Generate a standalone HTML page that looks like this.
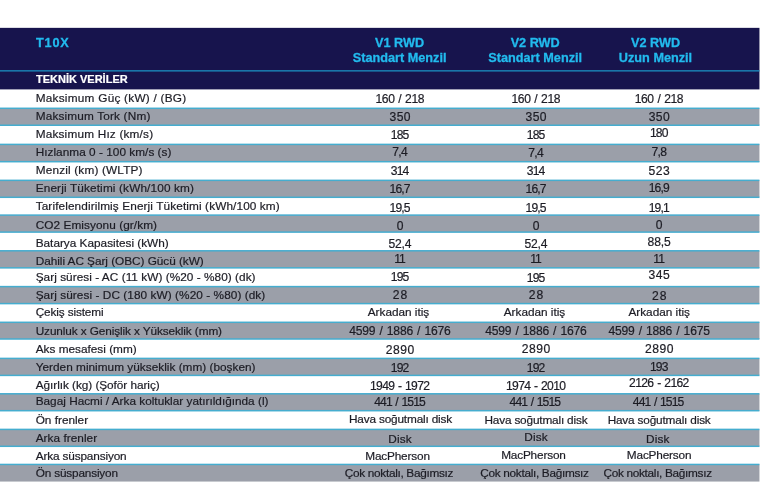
<!DOCTYPE html>
<html lang="tr"><head><meta charset="utf-8"><title>T10X Teknik Veriler</title>
<style>
html,body{margin:0;padding:0;background:#fff;}
body{width:770px;height:504px;position:relative;overflow:hidden;font-family:"Liberation Sans",sans-serif;}
.abs{position:absolute;}
.t{position:absolute;white-space:nowrap;color:#1c1c24;-webkit-text-stroke:0.2px #1c1c24;font-size:11.8px;line-height:14px;}
.c{transform:translateX(-50%);text-align:center;}
.h{position:absolute;white-space:nowrap;color:#22bbee;-webkit-text-stroke:0.3px #22bbee;font-weight:bold;font-size:12.7px;line-height:15.8px;text-align:center;transform:translateX(-50%);}
</style></head><body>

<svg class="abs" style="left:0;top:0" width="770" height="504" viewBox="0 0 770 504">
<rect x="0" y="27.85" width="759.45" height="61.55" fill="#17144d"/>
<rect x="0" y="70.15" width="759.45" height="1.4" fill="#1b87b9"/>
<rect x="0" y="108.30" width="759.45" height="16.95" fill="#9b9fa9"/>
<rect x="0" y="107.55" width="759.45" height="1.5" fill="#45adcf"/>
<rect x="0" y="124.50" width="759.45" height="1.5" fill="#45adcf"/>
<rect x="0" y="144.40" width="759.45" height="17.30" fill="#9b9fa9"/>
<rect x="0" y="143.65" width="759.45" height="1.5" fill="#45adcf"/>
<rect x="0" y="160.95" width="759.45" height="1.5" fill="#45adcf"/>
<rect x="0" y="180.35" width="759.45" height="16.95" fill="#9b9fa9"/>
<rect x="0" y="179.60" width="759.45" height="1.5" fill="#45adcf"/>
<rect x="0" y="196.55" width="759.45" height="1.5" fill="#45adcf"/>
<rect x="0" y="215.10" width="759.45" height="17.00" fill="#9b9fa9"/>
<rect x="0" y="214.35" width="759.45" height="1.5" fill="#45adcf"/>
<rect x="0" y="231.35" width="759.45" height="1.5" fill="#45adcf"/>
<rect x="0" y="250.80" width="759.45" height="17.05" fill="#9b9fa9"/>
<rect x="0" y="250.05" width="759.45" height="1.5" fill="#45adcf"/>
<rect x="0" y="267.10" width="759.45" height="1.5" fill="#45adcf"/>
<rect x="0" y="286.60" width="759.45" height="17.00" fill="#9b9fa9"/>
<rect x="0" y="285.85" width="759.45" height="1.5" fill="#45adcf"/>
<rect x="0" y="302.85" width="759.45" height="1.5" fill="#45adcf"/>
<rect x="0" y="322.30" width="759.45" height="16.70" fill="#9b9fa9"/>
<rect x="0" y="321.55" width="759.45" height="1.5" fill="#45adcf"/>
<rect x="0" y="338.25" width="759.45" height="1.5" fill="#45adcf"/>
<rect x="0" y="358.40" width="759.45" height="17.00" fill="#9b9fa9"/>
<rect x="0" y="357.65" width="759.45" height="1.5" fill="#45adcf"/>
<rect x="0" y="374.65" width="759.45" height="1.5" fill="#45adcf"/>
<rect x="0" y="393.80" width="759.45" height="16.90" fill="#9b9fa9"/>
<rect x="0" y="393.05" width="759.45" height="1.5" fill="#45adcf"/>
<rect x="0" y="409.95" width="759.45" height="1.5" fill="#45adcf"/>
<rect x="0" y="429.40" width="759.45" height="16.90" fill="#9b9fa9"/>
<rect x="0" y="428.65" width="759.45" height="1.5" fill="#45adcf"/>
<rect x="0" y="445.55" width="759.45" height="1.5" fill="#45adcf"/>
<rect x="0" y="464.45" width="759.45" height="17.10" fill="#9b9fa9"/>
<rect x="0" y="463.70" width="759.45" height="1.5" fill="#45adcf"/>
</svg>
<div class="h" style="left:36px;top:35.5px;transform:none;text-align:left;letter-spacing:0.8px">T10X</div>
<div class="h" style="left:399.6px;top:36.0px">V1 RWD</div>
<div class="h" style="left:399.6px;top:51.4px">Standart Menzil</div>
<div class="h" style="left:535.2px;top:36.0px">V2 RWD</div>
<div class="h" style="left:535.2px;top:51.4px">Standart Menzil</div>
<div class="h" style="left:655.5px;top:36.0px">V2 RWD</div>
<div class="h" style="left:655.5px;top:51.4px">Uzun Menzil</div>
<div class="h" style="left:36px;top:71.5px;transform:none;text-align:left;color:#fff;-webkit-text-stroke:0.2px #fff;font-size:11px">TEKNİK VERİLER</div>
<div class="t" style="left:35.7px;top:90.86px;letter-spacing:0.248px">Maksimum Güç (kW) / (BG)</div>
<div class="t c" style="left:399.77px;top:92.06px;letter-spacing:-0.455px;word-spacing:1.0px;font-size:12.1px">160 / 218</div>
<div class="t c" style="left:535.77px;top:91.96px;letter-spacing:-0.455px;word-spacing:1.0px;font-size:12.1px">160 / 218</div>
<div class="t c" style="left:658.97px;top:91.96px;letter-spacing:-0.455px;word-spacing:1.0px;font-size:12.1px">160 / 218</div>
<div class="t" style="left:35.7px;top:109.06px;letter-spacing:0.163px">Maksimum Tork (Nm)</div>
<div class="t c" style="left:400.21px;top:109.86px;letter-spacing:0.411px;word-spacing:0px;font-size:12.1px">350</div>
<div class="t c" style="left:536.21px;top:110.16px;letter-spacing:0.411px;word-spacing:0px;font-size:12.1px">350</div>
<div class="t c" style="left:659.41px;top:110.16px;letter-spacing:0.411px;word-spacing:0px;font-size:12.1px">350</div>
<div class="t" style="left:35.7px;top:127.26px;letter-spacing:0.188px">Maksimum Hız (km/s)</div>
<div class="t c" style="left:399.58px;top:128.26px;letter-spacing:-0.839px;word-spacing:0px;font-size:12.1px">185</div>
<div class="t c" style="left:535.58px;top:128.26px;letter-spacing:-0.839px;word-spacing:0px;font-size:12.1px">185</div>
<div class="t c" style="left:658.81px;top:126.26px;letter-spacing:-0.789px;word-spacing:0px;font-size:12.1px">180</div>
<div class="t" style="left:35.7px;top:145.16px;letter-spacing:0.029px">Hızlanma 0 - 100 km/s (s)</div>
<div class="t c" style="left:399.67px;top:145.26px;letter-spacing:-0.660px;word-spacing:0px;font-size:12.1px">7,4</div>
<div class="t c" style="left:535.67px;top:145.96px;letter-spacing:-0.660px;word-spacing:0px;font-size:12.1px">7,4</div>
<div class="t c" style="left:658.87px;top:144.66px;letter-spacing:-0.660px;word-spacing:0px;font-size:12.1px">7,8</div>
<div class="t" style="left:35.7px;top:162.86px;letter-spacing:0.168px">Menzil (km) (WLTP)</div>
<div class="t c" style="left:399.58px;top:163.86px;letter-spacing:-0.839px;word-spacing:0px;font-size:12.1px">314</div>
<div class="t c" style="left:535.58px;top:163.86px;letter-spacing:-0.839px;word-spacing:0px;font-size:12.1px">314</div>
<div class="t c" style="left:659.46px;top:163.86px;letter-spacing:0.511px;word-spacing:0px;font-size:12.1px">523</div>
<div class="t" style="left:35.7px;top:180.96px;letter-spacing:0.142px">Enerji Tüketimi (kWh/100 km)</div>
<div class="t c" style="left:399.55px;top:182.26px;letter-spacing:-0.900px;word-spacing:0px;font-size:12.1px">16,7</div>
<div class="t c" style="left:535.55px;top:181.96px;letter-spacing:-0.900px;word-spacing:0px;font-size:12.1px">16,7</div>
<div class="t c" style="left:658.75px;top:181.26px;letter-spacing:-0.900px;word-spacing:0px;font-size:12.1px">16,9</div>
<div class="t" style="left:35.7px;top:198.76px;letter-spacing:0.111px">Tarifelendirilmiş Enerji Tüketimi (kWh/100 km)</div>
<div class="t c" style="left:399.55px;top:200.66px;letter-spacing:-0.900px;word-spacing:0px;font-size:12.1px">19,5</div>
<div class="t c" style="left:535.55px;top:200.66px;letter-spacing:-0.900px;word-spacing:0px;font-size:12.1px">19,5</div>
<div class="t c" style="left:658.75px;top:200.66px;letter-spacing:-0.900px;word-spacing:0px;font-size:12.1px">19,1</div>
<div class="t" style="left:35.7px;top:217.76px;letter-spacing:0.072px">CO2 Emisyonu (gr/km)</div>
<div class="t c" style="left:400.00px;top:218.56px;letter-spacing:0.000px;word-spacing:0px;font-size:12.1px">0</div>
<div class="t c" style="left:536.00px;top:218.76px;letter-spacing:0.000px;word-spacing:0px;font-size:12.1px">0</div>
<div class="t c" style="left:659.20px;top:217.86px;letter-spacing:0.000px;word-spacing:0px;font-size:12.1px">0</div>
<div class="t" style="left:35.7px;top:235.56px;letter-spacing:-0.003px">Batarya Kapasitesi (kWh)</div>
<div class="t c" style="left:399.91px;top:237.06px;letter-spacing:-0.184px;word-spacing:0px;font-size:12.1px">52,4</div>
<div class="t c" style="left:535.91px;top:236.56px;letter-spacing:-0.184px;word-spacing:0px;font-size:12.1px">52,4</div>
<div class="t c" style="left:659.16px;top:234.96px;letter-spacing:-0.084px;word-spacing:0px;font-size:12.1px">88,5</div>
<div class="t" style="left:35.7px;top:254.26px;letter-spacing:-0.037px">Dahili AC Şarj (OBC) Gücü (kW)</div>
<div class="t c" style="left:399.55px;top:252.16px;letter-spacing:-0.900px;word-spacing:0px;font-size:12.1px">11</div>
<div class="t c" style="left:535.55px;top:252.36px;letter-spacing:-0.900px;word-spacing:0px;font-size:12.1px">11</div>
<div class="t c" style="left:658.75px;top:252.36px;letter-spacing:-0.900px;word-spacing:0px;font-size:12.1px">11</div>
<div class="t" style="left:35.7px;top:269.76px;letter-spacing:0.044px">Şarj süresi - AC (11 kW) (%20 - %80) (dk)</div>
<div class="t c" style="left:399.61px;top:269.66px;letter-spacing:-0.789px;word-spacing:0px;font-size:12.1px">195</div>
<div class="t c" style="left:535.61px;top:270.86px;letter-spacing:-0.789px;word-spacing:0px;font-size:12.1px">195</div>
<div class="t c" style="left:659.46px;top:268.36px;letter-spacing:0.511px;word-spacing:0px;font-size:12.1px">345</div>
<div class="t" style="left:35.7px;top:287.66px;letter-spacing:0.067px">Şarj süresi - DC (180 kW) (%20 - %80) (dk)</div>
<div class="t c" style="left:400.45px;top:287.56px;letter-spacing:0.900px;word-spacing:0px;font-size:12.1px">28</div>
<div class="t c" style="left:536.45px;top:288.16px;letter-spacing:0.900px;word-spacing:0px;font-size:12.1px">28</div>
<div class="t c" style="left:659.65px;top:288.76px;letter-spacing:0.900px;word-spacing:0px;font-size:12.1px">28</div>
<div class="t" style="left:35.7px;top:304.96px;letter-spacing:-0.131px">Çekiş sistemi</div>
<div class="t c" style="left:398.49px;top:305.16px;letter-spacing:-0.011px">Arkadan itiş</div>
<div class="t c" style="left:534.49px;top:305.26px;letter-spacing:-0.011px">Arkadan itiş</div>
<div class="t c" style="left:659.19px;top:305.26px;letter-spacing:-0.011px">Arkadan itiş</div>
<div class="t" style="left:35.7px;top:323.56px;letter-spacing:-0.104px">Uzunluk x Genişlik x Yükseklik (mm)</div>
<div class="t c" style="left:399.90px;top:324.36px;letter-spacing:-0.204px;word-spacing:1.0px;font-size:12.1px">4599 / 1886 / 1676</div>
<div class="t c" style="left:535.90px;top:324.36px;letter-spacing:-0.204px;word-spacing:1.0px;font-size:12.1px">4599 / 1886 / 1676</div>
<div class="t c" style="left:659.10px;top:324.36px;letter-spacing:-0.204px;word-spacing:1.0px;font-size:12.1px">4599 / 1886 / 1675</div>
<div class="t" style="left:35.7px;top:341.76px;letter-spacing:0.005px">Aks mesafesi (mm)</div>
<div class="t c" style="left:400.28px;top:342.96px;letter-spacing:0.564px;word-spacing:0px;font-size:12.1px">2890</div>
<div class="t c" style="left:536.28px;top:342.46px;letter-spacing:0.564px;word-spacing:0px;font-size:12.1px">2890</div>
<div class="t c" style="left:659.48px;top:341.86px;letter-spacing:0.564px;word-spacing:0px;font-size:12.1px">2890</div>
<div class="t" style="left:35.7px;top:359.66px;letter-spacing:0.018px">Yerden minimum yükseklik (mm) (boşken)</div>
<div class="t c" style="left:399.61px;top:360.96px;letter-spacing:-0.789px;word-spacing:0px;font-size:12.1px">192</div>
<div class="t c" style="left:535.61px;top:360.76px;letter-spacing:-0.789px;word-spacing:0px;font-size:12.1px">192</div>
<div class="t c" style="left:658.81px;top:360.16px;letter-spacing:-0.789px;word-spacing:0px;font-size:12.1px">193</div>
<div class="t" style="left:35.7px;top:378.06px;letter-spacing:-0.047px">Ağırlık (kg) (Şoför hariç)</div>
<div class="t c" style="left:399.67px;top:379.16px;letter-spacing:-0.666px;word-spacing:1.0px;font-size:12.1px">1949 - 1972</div>
<div class="t c" style="left:535.67px;top:379.26px;letter-spacing:-0.666px;word-spacing:1.0px;font-size:12.1px">1974 - 2010</div>
<div class="t c" style="left:658.89px;top:376.36px;letter-spacing:-0.626px;word-spacing:1.0px;font-size:12.1px">2126 - 2162</div>
<div class="t" style="left:35.7px;top:394.46px;letter-spacing:0.000px">Bagaj Hacmi / Arka koltuklar yatırıldığında (l)</div>
<div class="t c" style="left:399.57px;top:395.26px;letter-spacing:-0.853px;word-spacing:1.0px;font-size:12.1px">441 / 1515</div>
<div class="t c" style="left:534.87px;top:395.06px;letter-spacing:-0.853px;word-spacing:1.0px;font-size:12.1px">441 / 1515</div>
<div class="t c" style="left:658.17px;top:395.06px;letter-spacing:-0.853px;word-spacing:1.0px;font-size:12.1px">441 / 1515</div>
<div class="t" style="left:35.7px;top:412.86px;letter-spacing:-0.006px">Ön frenler</div>
<div class="t c" style="left:400.51px;top:411.96px;letter-spacing:-0.172px">Hava soğutmalı disk</div>
<div class="t c" style="left:535.91px;top:412.76px;letter-spacing:-0.172px">Hava soğutmalı disk</div>
<div class="t c" style="left:659.11px;top:412.76px;letter-spacing:-0.172px">Hava soğutmalı disk</div>
<div class="t" style="left:35.7px;top:431.06px;letter-spacing:0.040px">Arka frenler</div>
<div class="t c" style="left:400.06px;top:431.96px;letter-spacing:0.121px">Disk</div>
<div class="t c" style="left:536.06px;top:430.26px;letter-spacing:0.121px">Disk</div>
<div class="t c" style="left:657.76px;top:431.96px;letter-spacing:0.121px">Disk</div>
<div class="t" style="left:35.7px;top:449.06px;letter-spacing:-0.146px">Arka süspansiyon</div>
<div class="t c" style="left:397.52px;top:448.91px;letter-spacing:-0.168px">MacPherson</div>
<div class="t c" style="left:533.42px;top:447.56px;letter-spacing:-0.168px">MacPherson</div>
<div class="t c" style="left:659.12px;top:447.56px;letter-spacing:-0.168px">MacPherson</div>
<div class="t" style="left:35.7px;top:465.56px;letter-spacing:-0.175px">Ön süspansiyon</div>
<div class="t c" style="left:398.94px;top:465.56px;letter-spacing:-0.310px">Çok noktalı, Bağımsız</div>
<div class="t c" style="left:534.44px;top:465.66px;letter-spacing:-0.310px">Çok noktalı, Bağımsız</div>
<div class="t c" style="left:657.64px;top:465.66px;letter-spacing:-0.310px">Çok noktalı, Bağımsız</div>
</body></html>
